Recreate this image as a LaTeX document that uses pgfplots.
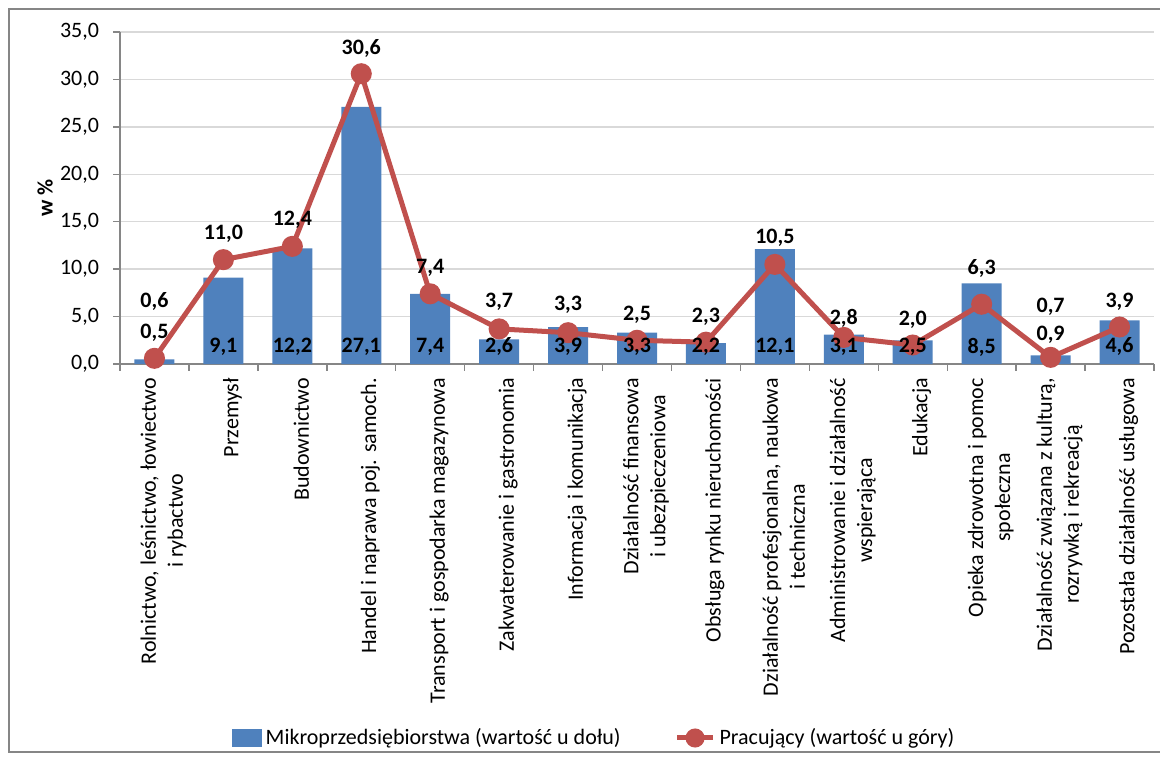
\documentclass[border=0pt]{standalone}
\usepackage{pgfplots}
\pgfplotsset{compat=1.18}
\usepackage{pgfplotstable}
\usepackage{fontspec}
\setmainfont{Carlito}
\definecolor{barblue}{HTML}{4F81BD}
\definecolor{linered}{HTML}{C0504D}
\definecolor{gridgray}{HTML}{D9D9D9}
\definecolor{axgray}{HTML}{868686}
\newcommand\f{\fontsize{11bp}{13.5bp}\selectfont}

% x: category, bar: Mikroprzedsiebiorstwa, line: Pracujacy
% by / ly: where the value labels sit
\pgfplotstableread{
x  bar   line  by    ly
0  0.5   0.6   3.27  6.54
1  9.1   11.0  1.8   13.7
2  12.2  12.4  1.8   15.18
3  27.1  30.6  1.8   33.3
4  7.4   7.4   1.8   10.1
5  2.6   3.7   1.8   6.54
6  3.9   3.3   1.8   6.2
7  3.3   2.5   1.8   5.17
8  2.2   2.3   1.8   4.95
9  12.1  10.5  1.8   13.28
10 3.1   2.8   1.8   4.85
11 2.5   2.0   1.8   4.64
12 8.5   6.3   1.8   10.12
13 0.9   0.7   3.06  6.0
14 4.6   3.9   1.8   6.54
}\data

\begin{document}
\begin{tikzpicture}
\useasboundingbox (0,0) rectangle (580bp,379bp);
\draw[axgray, line width=0.7bp] (585bp,374.5bp) -- (4.5bp,374.5bp) -- (4.5bp,3bp) -- (585bp,3bp);
\begin{axis}[
  at={(60bp,197bp)}, anchor=south west,
  scale only axis, width=517bp, height=166bp,
  xmin=-0.5, xmax=14.5, ymin=0, ymax=35,
  axis x line*=bottom, axis y line*=left,
  axis line style={axgray, line width=0.7bp},
  tick align=outside,
  major tick length=3.5bp, minor tick length=3.5bp,
  tick style={axgray, line width=0.7bp},
  ytick={0,5,...,35},
  ymajorgrids, grid style={gridgray, line width=0.7bp},
  /pgf/number format/.cd, fixed, fixed zerofill, precision=1, use comma, assume math mode=true,
  /pgfplots/.cd,
  yticklabel style={font=\f, xshift=-3.5bp},
  xtick={0,...,14},
  major x tick style={draw=none},
  minor xtick={-0.5,0.5,...,14.5},
  xticklabels={
    {Rolnictwo, leśnictwo, łowiectwo\\i rybactwo},
    {Przemysł},
    {Budownictwo},
    {Handel i naprawa poj. samoch.},
    {Transport i gospodarka magazynowa},
    {Zakwaterowanie i gastronomia},
    {Informacja i komunikacja},
    {Działalność finansowa\\i ubezpieczeniowa},
    {Obsługa rynku nieruchomości},
    {Działalność profesjonalna, naukowa\\i techniczna},
    {Administrowanie i działalność\\wspierająca},
    {Edukacja},
    {Opieka zdrowotna i pomoc\\społeczna},
    {Działalność związana z kulturą,\\rozrywką i rekreacją},
    {Pozostała działalność usługowa}},
  xticklabel style={rotate=90, anchor=east, align=center, font=\f, yshift=-4.5bp},
  ylabel={\bfseries w \%},
  ylabel style={at={(axis description cs:-0.0725,0.5)}, anchor=center, font=\f},
  clip=false,
  legend columns=2,
  legend style={at={(0.4594,-1.1265)}, anchor=center, draw=none, fill=none, font=\f,
    /tikz/every even column/.append style={column sep=25bp}},
]
\addplot[ybar, bar width=20bp, fill=barblue, draw=none,
  legend image code/.code={\fill[barblue] (0bp,-4.5bp) rectangle (15bp,4.5bp);}]
  table[x=x, y=bar]{\data};
\addlegendentry{Mikroprzedsiębiorstwa (wartość u dołu)}
\addplot[linered, line width=2.5bp, mark=*, mark size=4bp,
  mark options={fill=linered, draw=none},
  legend image code/.code={\draw[linered, line width=2.5bp] (0bp,0bp) -- (18bp,0bp); \fill[linered] (9bp,0bp) circle (3.5bp);}]
  table[x=x, y=line]{\data};
\addlegendentry{Pracujący (wartość u góry)}
\addplot[draw=none, mark=none, forget plot, point meta=explicit,
  nodes near coords={\pgfmathprintnumber[fixed, fixed zerofill, precision=1, use comma, assume math mode=true]{\pgfplotspointmeta}},
  every node near coord/.append style={anchor=center, font=\f\bfseries, black}]
  table[x=x, y=by, meta=bar]{\data};
\addplot[draw=none, mark=none, forget plot, point meta=explicit,
  nodes near coords={\pgfmathprintnumber[fixed, fixed zerofill, precision=1, use comma, assume math mode=true]{\pgfplotspointmeta}},
  every node near coord/.append style={anchor=center, font=\f\bfseries, black}]
  table[x=x, y=ly, meta=line]{\data};
\end{axis}
\end{tikzpicture}
\end{document}
